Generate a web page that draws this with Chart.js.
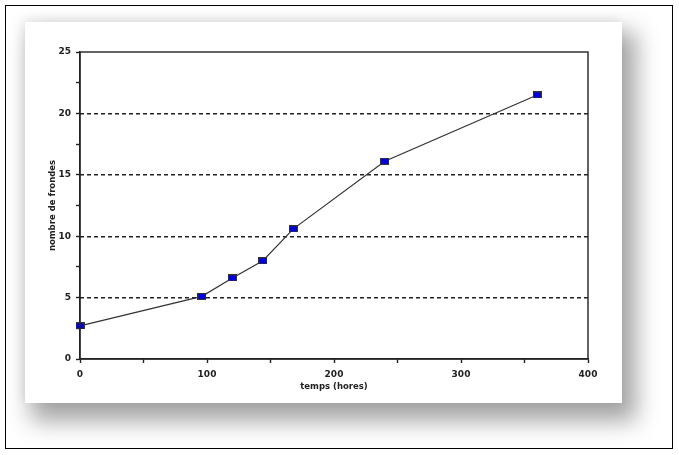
<!DOCTYPE html>
<html>
<head>
<meta charset="utf-8">
<script src="https://cdn.jsdelivr.net/npm/chart.js@4/dist/chart.umd.min.js"></script>
<style>
  html, body { margin: 0; padding: 0; background: #fff; }
  #wrap { position: relative; width: 679px; height: 455px; overflow: hidden; background: #fff; }
  #frame { position: absolute; left: 5px; top: 5px; width: 668px; height: 444px; border: 1px solid #000; box-sizing: border-box; }
  #card { position: absolute; left: 25px; top: 22px; width: 597px; height: 381px; background: #fff;
          box-shadow: 10px 14px 22px 4px rgba(0,0,0,0.36), -3px -3px 10px rgba(0,0,0,0.07); }
  #c { position: absolute; left: 0; top: 0; }
</style>
</head>
<body>
<div id="wrap">
  <div id="frame"></div>
  <div id="card"></div>
  <canvas id="c" width="679" height="455"></canvas>
</div>
<script>
const hours = [0, 96, 120, 144, 168, 240, 360];
const fronds = [2.7, 5.1, 6.6, 8.0, 10.6, 16.1, 21.5];
const xTickValues = [0, 100, 200, 300, 400];
const yTickValues = [0, 5, 10, 15, 20, 25];
const xTitle = 'temps (hores)';
const yTitle = 'nombre de frondes';

// marker: small blue rectangle with dark outline
const marker = document.createElement('canvas');
marker.width = 9; marker.height = 7;
(function(){
  const m = marker.getContext('2d');
  m.fillStyle = '#333';
  m.fillRect(0, 0, 9, 7);
  m.fillStyle = '#0000dd';
  m.fillRect(1, 1, 7, 5);
})();

const frameBox = {
  id: 'frameBox',
  afterDatasetsDraw(chart) {
    const a = chart.chartArea, ctx = chart.ctx;
    ctx.save();
    ctx.strokeStyle = '#222';
    ctx.lineWidth = 1.4;
    ctx.strokeRect(a.left, a.top, a.right - a.left, a.bottom - a.top);
    ctx.restore();
  }
};

const font = { family: 'DejaVu Sans', size: 9, weight: 'bold' };
const titleFont = { family: 'DejaVu Sans', size: 8.5, weight: 'bold' };

new Chart(document.getElementById('c'), {
  type: 'line',
  data: {
    datasets: [{
      data: hours.map((h, i) => ({ x: h, y: fronds[i] })),
      borderColor: '#333',
      borderWidth: 1.2,
      pointStyle: marker,
      pointRadius: 4,
      fill: false,
      tension: 0,
      clip: false
    }]
  },
  options: {
    responsive: false,
    animation: false,
    devicePixelRatio: 1,
    layout: { padding: { left: 25, top: 52, right: 91, bottom: 56 } },
    plugins: { legend: { display: false }, tooltip: { enabled: false } },
    scales: {
      x: {
        type: 'linear', min: 0, max: 400,
        afterBuildTicks: s => { s.ticks = []; for (let v = 0; v <= 400; v += 50) s.ticks.push({ value: v }); },
        afterFit: s => { s.height = 40; },
        ticks: { color: '#222', font, padding: 6, maxRotation: 0, autoSkip: false,
                 callback: v => xTickValues.includes(v) ? String(v) : '' },
        grid: { drawOnChartArea: false, tickLength: 4, tickColor: '#222', tickWidth: 1.4 },
        border: { color: '#222', width: 1.4 },
        title: { display: true, text: xTitle, color: '#222', font: titleFont, padding: { top: 0, bottom: 7.5 } }
      },
      y: {
        type: 'linear', min: 0, max: 25, position: 'left',
        afterBuildTicks: s => { s.ticks = []; for (let v = 0; v <= 25; v += 2.5) s.ticks.push({ value: v }); },
        afterFit: s => { s.width = 55; },
        ticks: { color: '#222', font, padding: 5, autoSkip: false,
                 callback: v => yTickValues.includes(v) ? String(v) : '' },
        grid: { drawOnChartArea: false, tickLength: 4, tickColor: '#222', tickWidth: 1.4 },
        border: { color: '#222', width: 1.4 },
        title: { display: true, text: yTitle, color: '#222', font: titleFont, padding: { top: 23, bottom: 0 } }
      },
      yGrid: {
        type: 'linear', min: 0, max: 25, position: 'left',
        afterBuildTicks: s => { s.ticks = yTickValues.map(v => ({ value: v })); },
        afterFit: s => { s.width = 0; },
        ticks: { display: false },
        grid: { drawTicks: false, lineWidth: 1.4,
                color: c => (c.tick && (c.tick.value === 0 || c.tick.value === 25)) ? 'rgba(0,0,0,0)' : '#222' },
        border: { display: false, dash: [4, 3] }
      }
    }
  },
  plugins: [frameBox]
});
</script>
</body>
</html>
